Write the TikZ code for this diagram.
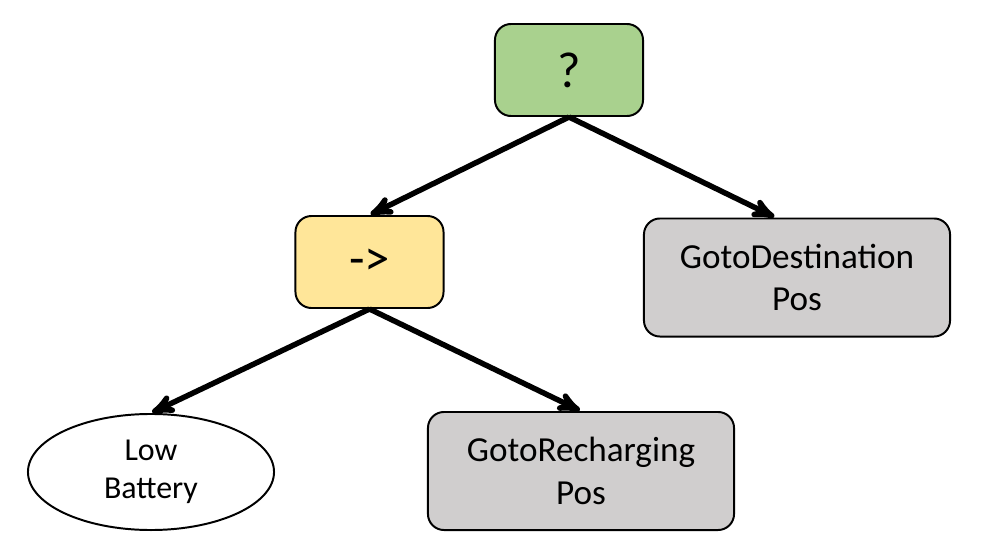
\documentclass[tikz,border=0pt]{standalone}
\usepackage{fontspec}
\setmainfont{Carlito}
\usetikzlibrary{shapes,arrows,calc}

\definecolor{fallgreen}{HTML}{A9D18E}
\definecolor{seqyellow}{HTML}{FFE699}
\definecolor{actgray}{HTML}{D0CECE}

\begin{document}
\begin{tikzpicture}[->,>=stealth',shorten >=1pt,line width=3.9pt,x=0.025cm,y=-0.025cm]
\tikzstyle{every node}=[draw=black,text=black,line width=1.4pt,align=center]
\tikzstyle{control}=[rounded corners=0.4cm,minimum width=3.7cm,minimum height=2.3cm,font=\fontsize{36}{43}\selectfont]
\tikzstyle{action}=[rounded corners=0.4cm,fill=actgray,minimum width=7.65cm,minimum height=2.95cm,font=\fontsize{25}{30}\selectfont]
\tikzstyle{condition}=[ellipse,minimum width=6.15cm,minimum height=2.9cm,font=\fontsize{22.7}{27}\selectfont]
\useasboundingbox (0,0) rectangle (996,552);
\node[control,fill=fallgreen] (fallback) at (569,70) {?};
\node[control,fill=seqyellow] (sequence) at (369.5,262) {->};
\node[action] (gotodest) at (797,277.5) {GotoDestination\\Pos};
\node[condition] (lowbat) at (151,472) {Low\\Battery};
\node[action] (gotorecharge) at (581,471) {GotoRecharging\\Pos};
\path (fallback.south) edge (sequence.north)
      (fallback.south) edge ($(gotodest.north west)!0.43!(gotodest.north east)$)
      (sequence.south) edge (lowbat.north)
      (sequence.south) edge (gotorecharge.north);
\end{tikzpicture}
\end{document}
